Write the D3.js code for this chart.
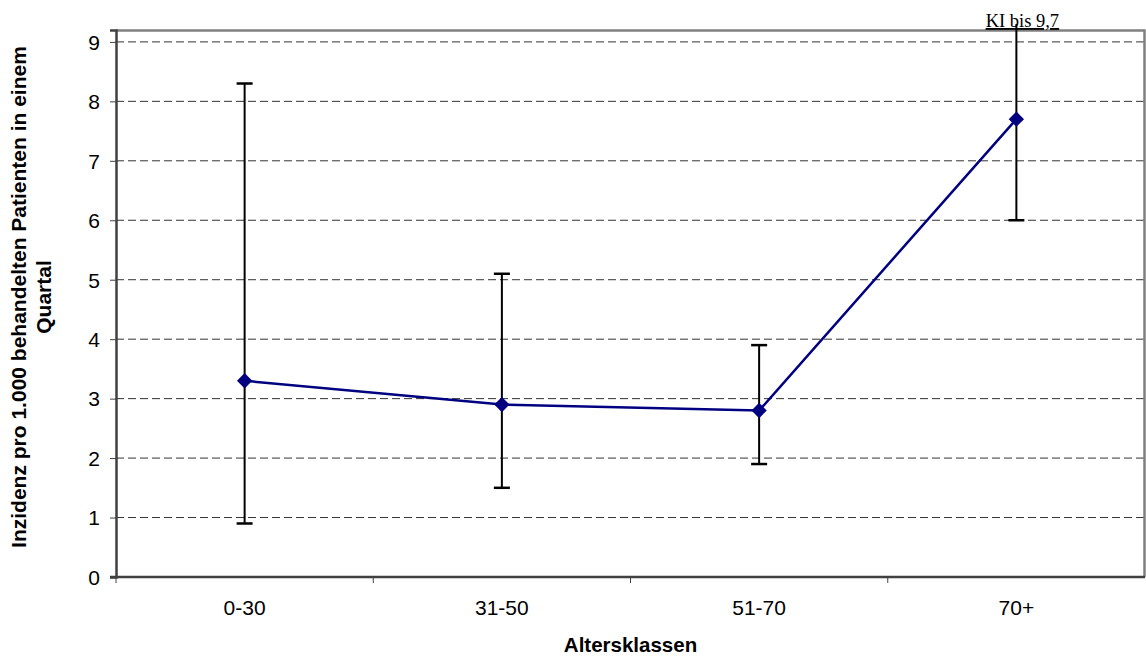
<!DOCTYPE html>
<html>
<head>
<meta charset="utf-8">
<script src="https://cdn.jsdelivr.net/npm/d3@7"></script>
<style>
  body { margin: 0; background: #fff; }
  svg { display: block; font-family: "Liberation Sans", Arial, sans-serif; }
</style>
</head>
<body>
<svg id="chart"></svg>
<script>
const width = 1146;
const height = 656;

// data
const categories = ["0-30", "31-50", "51-70", "70+"];
const values = [3.3, 2.9, 2.8, 7.7];
const lower = [0.9, 1.5, 1.9, 6.0];
const upper = [8.3, 5.1, 3.9, 9.7];
const yTicks = [0, 1, 2, 3, 4, 5, 6, 7, 8, 9];

const margin = { top: 30, right: 1, bottom: 79, left: 116 };
const innerW = width - margin.left - margin.right;
const innerH = height - margin.top - margin.bottom;

const svg = d3.select("#chart").attr("width", width).attr("height", height);
const g = svg.append("g").attr("transform", `translate(${margin.left},${margin.top})`);

const x = d3.scaleBand().domain(categories).range([0, innerW]);
const y = d3.scaleLinear().domain([0, 9.2]).range([innerH, 0]);

// gridlines
g.selectAll(".grid")
  .data(yTicks.filter((d) => d > 0))
  .enter()
  .append("line")
  .attr("x1", 0)
  .attr("x2", innerW)
  .attr("y1", (d) => y(d))
  .attr("y2", (d) => y(d))
  .attr("stroke", "#333")
  .attr("stroke-width", 1)
  .attr("stroke-dasharray", "8,4");

// plot frame (top & right)
g.append("path")
  .attr("d", `M0,0.5H${innerW - 0.5}V${innerH}`)
  .attr("fill", "none")
  .attr("stroke", "#808080")
  .attr("stroke-width", 2.5);

// y axis
const yAxis = g.append("g").call(
  d3.axisLeft(y).tickValues(yTicks).tickSize(6).tickPadding(10).tickFormat(d3.format("d"))
);
yAxis.select(".domain").attr("stroke", "#404040").attr("stroke-width", 2.5);
yAxis.selectAll(".tick line").attr("stroke", "#404040");
yAxis.selectAll("text").attr("font-size", 21).attr("fill", "#000").attr("dy", "0.35em");

// x axis
const xAxis = g.append("g").attr("transform", `translate(0,${innerH})`);
xAxis.append("line")
  .attr("x1", -6)
  .attr("x2", innerW)
  .attr("stroke", "#404040")
  .attr("stroke-width", 2.5);
xAxis.selectAll(".xt")
  .data(categories)
  .enter()
  .append("line")
  .attr("x1", (d) => x(d))
  .attr("x2", (d) => x(d))
  .attr("y1", 0)
  .attr("y2", 6)
  .attr("stroke", "#404040");
xAxis.selectAll(".xl")
  .data(categories)
  .enter()
  .append("text")
  .attr("x", (d) => x(d) + x.bandwidth() / 2)
  .attr("y", 38)
  .attr("text-anchor", "middle")
  .attr("font-size", 21)
  .text((d) => d);

// error bars
const cx = (i) => x(categories[i]) + x.bandwidth() / 2;
const capW = 8;
const yTopClip = y.domain()[1] + 0.1;
const eb = g.selectAll(".eb").data(categories).enter().append("g");
eb.append("line")
  .attr("x1", (d, i) => cx(i))
  .attr("x2", (d, i) => cx(i))
  .attr("y1", (d, i) => y(lower[i]))
  .attr("y2", (d, i) => y(Math.min(upper[i], yTopClip)))
  .attr("stroke", "#000")
  .attr("stroke-width", 2);
eb.filter((d, i) => upper[i] <= yTopClip)
  .append("line")
  .attr("x1", (d) => cx(categories.indexOf(d)) - capW)
  .attr("x2", (d) => cx(categories.indexOf(d)) + capW)
  .attr("y1", (d) => y(upper[categories.indexOf(d)]))
  .attr("y2", (d) => y(upper[categories.indexOf(d)]))
  .attr("stroke", "#000")
  .attr("stroke-width", 2.5);
eb.append("line")
  .attr("x1", (d, i) => cx(i) - capW)
  .attr("x2", (d, i) => cx(i) + capW)
  .attr("y1", (d, i) => y(lower[i]))
  .attr("y2", (d, i) => y(lower[i]))
  .attr("stroke", "#000")
  .attr("stroke-width", 2.5);

// line
const line = d3.line().x((d, i) => cx(i)).y((d) => y(d));
g.append("path")
  .datum(values)
  .attr("d", line)
  .attr("fill", "none")
  .attr("stroke", "#000080")
  .attr("stroke-width", 2.5);

// markers
g.selectAll(".pt")
  .data(values)
  .enter()
  .append("path")
  .attr("d", d3.symbol().type(d3.symbolDiamond2).size(150))
  .attr("transform", (d, i) => `translate(${cx(i)},${y(d)})`)
  .attr("fill", "#000080");

// annotation
const lastI = categories.length - 1;
g.append("text")
  .attr("x", cx(lastI) + 6)
  .attr("y", -3)
  .attr("text-anchor", "middle")
  .attr("font-family", "'Liberation Serif', 'Times New Roman', serif")
  .attr("font-size", 18.5)
  .attr("text-decoration", "underline")
  .text("KI bis " + String(upper[lastI]).replace(".", ","));

// axis titles
svg.append("text")
  .attr("x", margin.left + innerW / 2)
  .attr("y", 652)
  .attr("text-anchor", "middle")
  .attr("font-size", 20.5)
  .attr("font-weight", "bold")
  .text("Altersklassen");

const yTitle = svg.append("text")
  .attr("transform", "translate(26,297) rotate(-90)")
  .attr("text-anchor", "middle")
  .attr("font-size", 21)
  .attr("font-weight", "bold");
yTitle.append("tspan").attr("x", 0).attr("dy", 0).text("Inzidenz pro 1.000 behandelten Patienten in einem");
yTitle.append("tspan").attr("x", 0).attr("dy", 25).text("Quartal");
</script>
</body>
</html>
